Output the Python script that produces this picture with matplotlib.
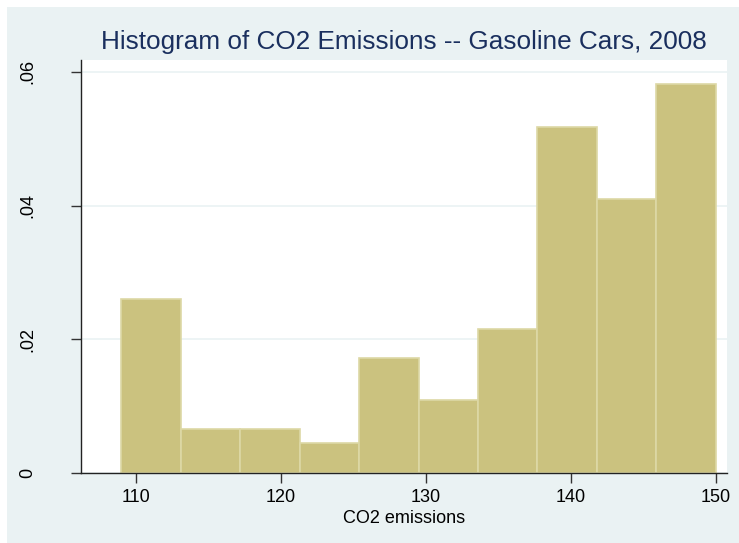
import matplotlib.pyplot as plt
from matplotlib.patches import Rectangle

plt.rcParams['font.family'] = ['Liberation Sans', 'DejaVu Sans']

# histogram bins (CO2 emissions, g/km) and densities per bin
bin_edges = [109.0, 113.1, 117.2, 121.3, 125.4, 129.5, 133.6, 137.7, 141.8, 145.9, 150.0]
density = [0.0260, 0.00657, 0.00657, 0.00448, 0.01727, 0.01095, 0.0216, 0.0517, 0.0410, 0.0582]

x_ticks = [110, 120, 130, 140, 150]
y_ticks = [0, 0.02, 0.04, 0.06]
y_ticklabels = ['0', '.02', '.04', '.06']

bg = '#eaf2f3'
bar_fill = '#cbc27f'
bar_edge = '#ddd8a6'

fig = plt.figure(figsize=(7.39, 5.43), dpi=100)
fig.patch.set_facecolor('white')
fig.patches.append(Rectangle((7 / 739, 0), 1, 1 - 7 / 543, transform=fig.transFigure,
                             facecolor=bg, edgecolor='none', zorder=-1))

ax = fig.add_axes([80.7 / 739, 1 - 473.3 / 543, (727 - 80.7) / 739, (473.3 - 60) / 543])
ax.set_facecolor('white')

widths = [bin_edges[i + 1] - bin_edges[i] for i in range(len(density))]
ax.bar(bin_edges[:-1], density, width=widths, align='edge',
       color=bar_fill, edgecolor=bar_edge, linewidth=1.2, zorder=2)

ax.set_xlim(106.22, 150.76)
ax.set_ylim(0, 0.06176)

ax.set_yticks(y_ticks)
ax.set_yticklabels(y_ticklabels, rotation=90, va='center')
ax.set_xticks(x_ticks)
ax.yaxis.grid(True, color=bg, linewidth=1.2, zorder=0)
ax.set_axisbelow(True)

for side in ('top', 'right'):
    ax.spines[side].set_visible(False)
for side in ('left', 'bottom'):
    ax.spines[side].set_color('#222222')
    ax.spines[side].set_linewidth(1.0)

ax.tick_params(axis='both', direction='out', length=7, width=1.0, color='#333333',
               labelsize=13, labelcolor='black')
ax.tick_params(axis='y', pad=25)
ax.tick_params(axis='x', pad=4)

ax.set_xlabel('CO2 emissions', fontsize=13, labelpad=3)
ax.set_title('Histogram of CO2 Emissions -- Gasoline Cars, 2008',
             fontsize=18.8, color='#1a2f5e', pad=8)

fig.savefig('out.png', dpi=100, facecolor=fig.get_facecolor())
